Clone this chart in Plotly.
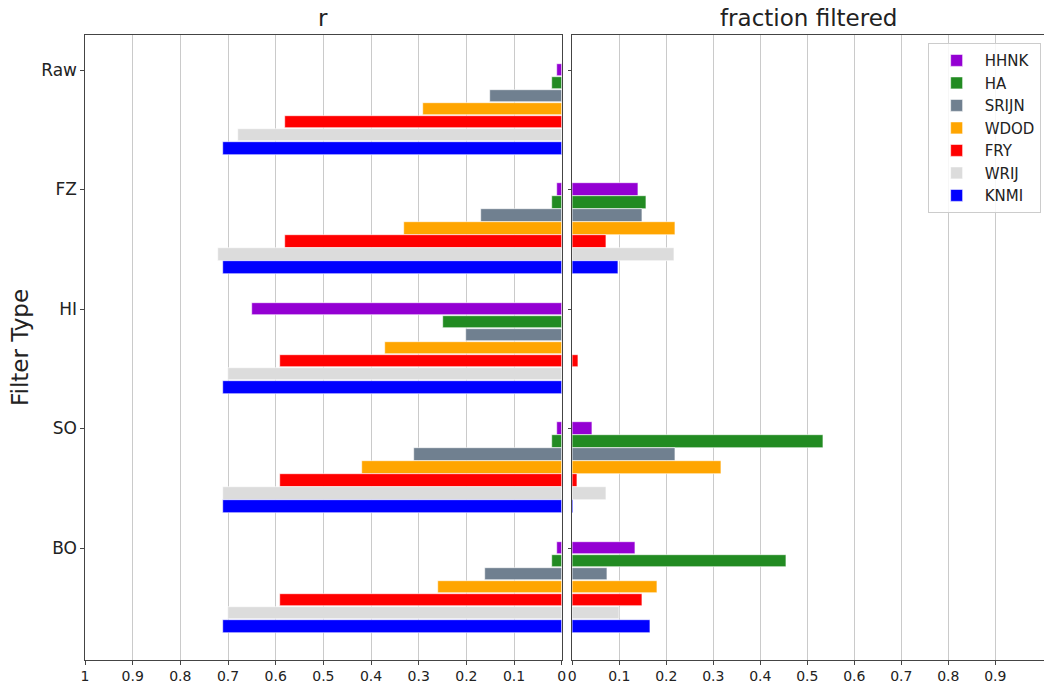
import plotly.graph_objects as go
from plotly.subplots import make_subplots

categories = ["Raw", "FZ", "HI", "SO", "BO"]
series = ["HHNK", "HA", "SRIJN", "WDOD", "FRY", "WRIJ", "KNMI"]
colors = ["#9400D3", "#228B22", "#708090", "#FFA500", "#FF0000", "#DCDCDC", "#0000FF"]

# correlation r per series, per category (Raw, FZ, HI, SO, BO)
r_HHNK = [0.01, 0.01, 0.65, 0.01, 0.01]
r_HA = [0.02, 0.02, 0.25, 0.02, 0.02]
r_SRIJN = [0.15, 0.17, 0.20, 0.31, 0.16]
r_WDOD = [0.29, 0.33, 0.37, 0.42, 0.26]
r_FRY = [0.58, 0.58, 0.59, 0.59, 0.59]
r_WRIJ = [0.68, 0.72, 0.70, 0.71, 0.70]
r_KNMI = [0.71, 0.71, 0.71, 0.71, 0.71]

# fraction filtered per series, per category
f_HHNK = [0.0, 0.14, 0.0, 0.043, 0.133]
f_HA = [0.0, 0.157, 0.0, 0.534, 0.456]
f_SRIJN = [0.0, 0.148, 0.0, 0.22, 0.075]
f_WDOD = [0.0, 0.22, 0.0, 0.316, 0.18]
f_FRY = [0.0, 0.072, 0.012, 0.011, 0.148]
f_WRIJ = [0.0, 0.216, 0.0, 0.072, 0.10]
f_KNMI = [0.0, 0.097, 0.0, 0.003, 0.165]

r_vals = [r_HHNK, r_HA, r_SRIJN, r_WDOD, r_FRY, r_WRIJ, r_KNMI]
f_vals = [f_HHNK, f_HA, f_SRIJN, f_WDOD, f_FRY, f_WRIJ, f_KNMI]

left_ticks = [1, 0.9, 0.8, 0.7, 0.6, 0.5, 0.4, 0.3, 0.2, 0.1, 0]
left_ticktext = ["1", "0.9", "0.8", "0.7", "0.6", "0.5", "0.4", "0.3", "0.2", "0.1", "0"]
right_ticks = [0, 0.1, 0.2, 0.3, 0.4, 0.5, 0.6, 0.7, 0.8, 0.9]
right_ticktext = ["0", "0.1", "0.2", "0.3", "0.4", "0.5", "0.6", "0.7", "0.8", "0.9"]

offset = 0.109
bar_w = 0.106

fig = make_subplots(rows=1, cols=2, shared_yaxes=False)

for i, name in enumerate(series):
    ypos = [k + i * offset for k in range(len(categories))]
    fig.add_trace(go.Bar(
        x=r_vals[i], y=ypos, orientation="h", name=name, width=bar_w,
        marker=dict(color=colors[i], line=dict(color="white", width=0.6)),
        legendgroup=name, showlegend=False, hoverinfo="x+name"), row=1, col=1)
    fig.add_trace(go.Bar(
        x=f_vals[i], y=ypos, orientation="h", name=name, width=bar_w,
        marker=dict(color=colors[i], line=dict(color="white", width=0.6)),
        legendgroup=name, showlegend=True, hoverinfo="x+name"), row=1, col=2)

grid_col = "rgba(150,150,150,0.5)"
axis_font = dict(family="DejaVu Sans", size=14, color="#222")

fig.update_layout(
    width=1044, height=686,
    margin=dict(l=85, r=0, t=35, b=26, autoexpand=False),
    paper_bgcolor="white", plot_bgcolor="white",
    barmode="overlay",
    bargap=0,
    font=dict(family="DejaVu Sans", color="#222"),
    legend=dict(x=0.9965, xanchor="right", y=0.987, yanchor="top",
                traceorder="normal", bordercolor="#cccccc", borderwidth=1,
                bgcolor="rgba(255,255,255,0.85)",
                font=dict(family="DejaVu Sans", size=15, color="#222"),
                itemwidth=46, tracegroupgap=9),
)

fig.update_xaxes(row=1, col=1, domain=[0, 0.4971], range=[1, 0], tickvals=left_ticks,
                 ticktext=left_ticktext, automargin=False,
                 showgrid=True, gridcolor=grid_col, gridwidth=1, layer="above traces",
                 showline=True, linecolor="#444", linewidth=1.2, mirror=True,
                 ticks="outside", ticklen=3.5, tickcolor="#444", tickfont=axis_font,
                 zeroline=False)
fig.update_xaxes(row=1, col=2, domain=[0.5081, 1], range=[0, 1.0036], tickvals=right_ticks,
                 ticktext=right_ticktext, automargin=False,
                 showgrid=True, gridcolor=grid_col, gridwidth=1, layer="above traces",
                 showline=True, linecolor="#444", linewidth=1.2, mirror=True,
                 ticks="outside", ticklen=3.5, tickcolor="#444", tickfont=axis_font,
                 zeroline=False)

yrange = [4.937, -0.293]
fig.update_yaxes(row=1, col=1, range=yrange, tickvals=list(range(len(categories))),
                 ticktext=categories, showgrid=False, zeroline=False, automargin=False,
                 showline=True, linecolor="#444", linewidth=1.2, mirror=True,
                 ticks="outside", ticklen=3.5, tickcolor="#444",
                 tickfont=dict(family="DejaVu Sans", size=17, color="#222"),
                 title=dict(text="Filter Type", font=dict(family="DejaVu Sans", size=23, color="#222"),
                            standoff=6))
fig.update_yaxes(row=1, col=2, range=yrange, tickvals=list(range(len(categories))),
                 ticktext=categories, showticklabels=False, showgrid=False, zeroline=False,
                 automargin=False,
                 showline=True, linecolor="#444", linewidth=1.2, mirror=False,
                 ticks="outside", ticklen=3.5, tickcolor="#444")

fig.add_annotation(text="r", xref="x domain", yref="paper", x=0.5, y=1.0, yshift=2,
                   yanchor="bottom", showarrow=False,
                   font=dict(family="DejaVu Sans", size=23, color="#222"))
fig.add_annotation(text="fraction filtered", xref="x2 domain", yref="paper", x=0.5, y=1.0, yshift=2,
                   yanchor="bottom", showarrow=False,
                   font=dict(family="DejaVu Sans", size=23, color="#222"))

fig.write_html("out.html")
